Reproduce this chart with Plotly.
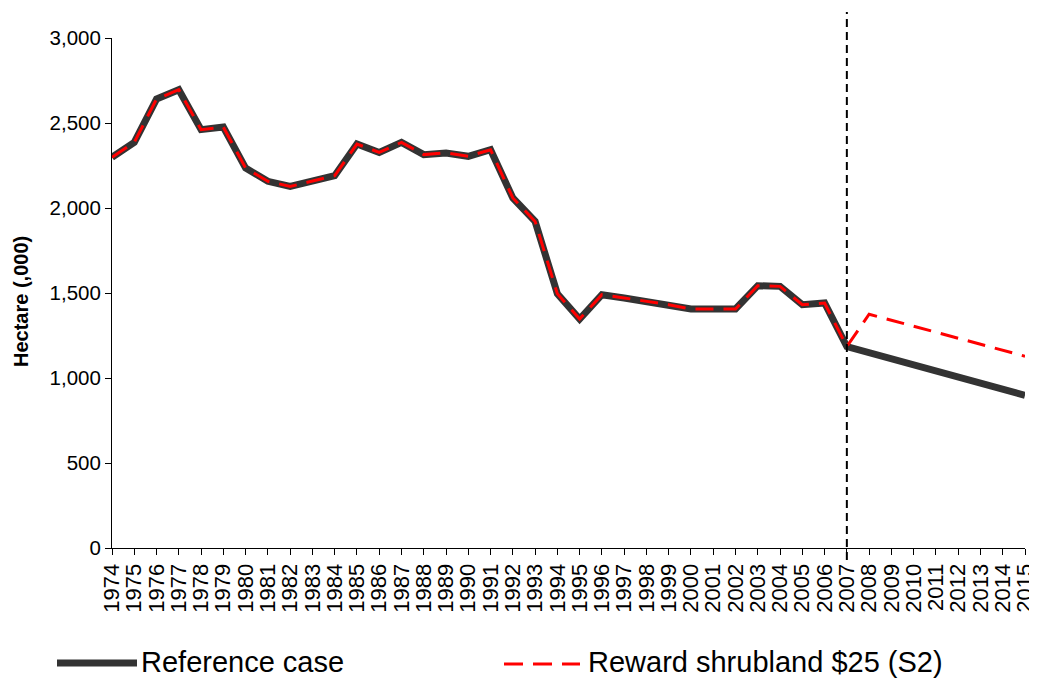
import plotly.graph_objects as go

years = list(range(1974, 2016))
year_labels = [str(y) for y in years]

reference_case = [
    2298, 2386, 2641, 2696, 2461, 2476, 2235, 2157, 2127, 2157,
    2190, 2376, 2327, 2386, 2314, 2324, 2304, 2343, 2059, 1921,
    1495, 1347, 1490, 1471, 1451, 1431, 1406, 1406, 1406, 1543,
    1539, 1431, 1441, 1185,
    1150, 1110, 1075, 1040, 1005, 970, 935, 898,
]
reward_shrubland = [
    2298, 2386, 2641, 2696, 2461, 2476, 2235, 2157, 2127, 2157,
    2190, 2376, 2327, 2386, 2314, 2324, 2304, 2343, 2059, 1921,
    1495, 1347, 1490, 1471, 1451, 1431, 1406, 1406, 1406, 1543,
    1539, 1431, 1441, 1185,
    1375, 1340, 1305, 1270, 1235, 1200, 1165, 1128,
]
series_names = ["Reference case", "Reward shrubland $25 (S2)"]
y_ticks = [0, 500, 1000, 1500, 2000, 2500, 3000]
split_year = 2007

FONT = "Liberation Sans, Arial, sans-serif"
OFF = 8  # page body margin
W, H = 1037 - OFF, 684 - OFF
L, R, T, B = 112 - OFF, 12, 38 - OFF, 136
pw, ph = W - L - R, H - T - B


def px_x(px):
    # page pixel -> paper fraction
    return (px - OFF - L) / pw


def px_y(py):
    return (OFF + T + ph - py) / ph


fig = go.Figure()
fig.add_trace(go.Scatter(
    x=years, y=reference_case, mode="lines", name=series_names[0],
    line=dict(color="#333333", width=7), showlegend=False,
))
fig.add_trace(go.Scatter(
    x=years, y=reward_shrubland, mode="lines", name=series_names[1],
    line=dict(color="#ff0000", width=3, dash="18px,10px"), showlegend=False,
))

# vertical dashed marker at split year
fig.add_shape(type="line", xref="x", yref="paper", x0=split_year, x1=split_year,
              y0=px_y(560), y1=px_y(12), line=dict(color="black", width=2, dash="8px,5px"))

# custom legend
fig.add_shape(type="line", xref="paper", yref="paper",
              x0=px_x(57), x1=px_x(137), y0=px_y(663), y1=px_y(663),
              line=dict(color="#333333", width=7))
fig.add_shape(type="line", xref="paper", yref="paper",
              x0=px_x(504), x1=px_x(580), y0=px_y(664), y1=px_y(664),
              line=dict(color="#ff0000", width=3, dash="19px,10px"))
fig.add_annotation(xref="paper", yref="paper", x=px_x(139), y=px_y(662),
                   text=series_names[0], showarrow=False, xanchor="left", yanchor="middle",
                   font=dict(family=FONT, size=29, color="black"))
fig.add_annotation(xref="paper", yref="paper", x=px_x(586), y=px_y(662),
                   text=series_names[1], showarrow=False, xanchor="left", yanchor="middle",
                   font=dict(family=FONT, size=29, color="black"))

# y-axis title
fig.add_annotation(xref="paper", yref="paper", x=px_x(21), y=px_y(302),
                   text="<b>Hectare (,000)</b>", showarrow=False, textangle=-90,
                   xanchor="center", yanchor="middle",
                   font=dict(family=FONT, size=20, color="black"))

fig.update_layout(
    template="none",
    width=W, height=H,
    margin=dict(l=L, r=R, t=T, b=B, pad=0),
    paper_bgcolor="white", plot_bgcolor="white",
    font=dict(family=FONT, color="black"),
    showlegend=False,
)
fig.update_xaxes(
    automargin=False, ticklabeloverflow="allow",
    range=[years[0], years[-1]], tickmode="array", tickvals=years, ticktext=year_labels,
    tickangle=-90, ticks="outside", ticklen=6, tickcolor="black",
    showline=True, linecolor="black", linewidth=1, showgrid=False, zeroline=False,
    tickfont=dict(family=FONT, size=22, color="black"),
)
fig.update_yaxes(
    automargin=False,
    range=[0, 3000], tickmode="array", tickvals=y_ticks, tickformat=",",
    ticks="outside", ticklen=6, tickcolor="black",
    showline=True, linecolor="black", linewidth=1, showgrid=False, zeroline=False,
    tickfont=dict(family=FONT, size=20.5, color="black"),
)

fig.write_html("out.html")
